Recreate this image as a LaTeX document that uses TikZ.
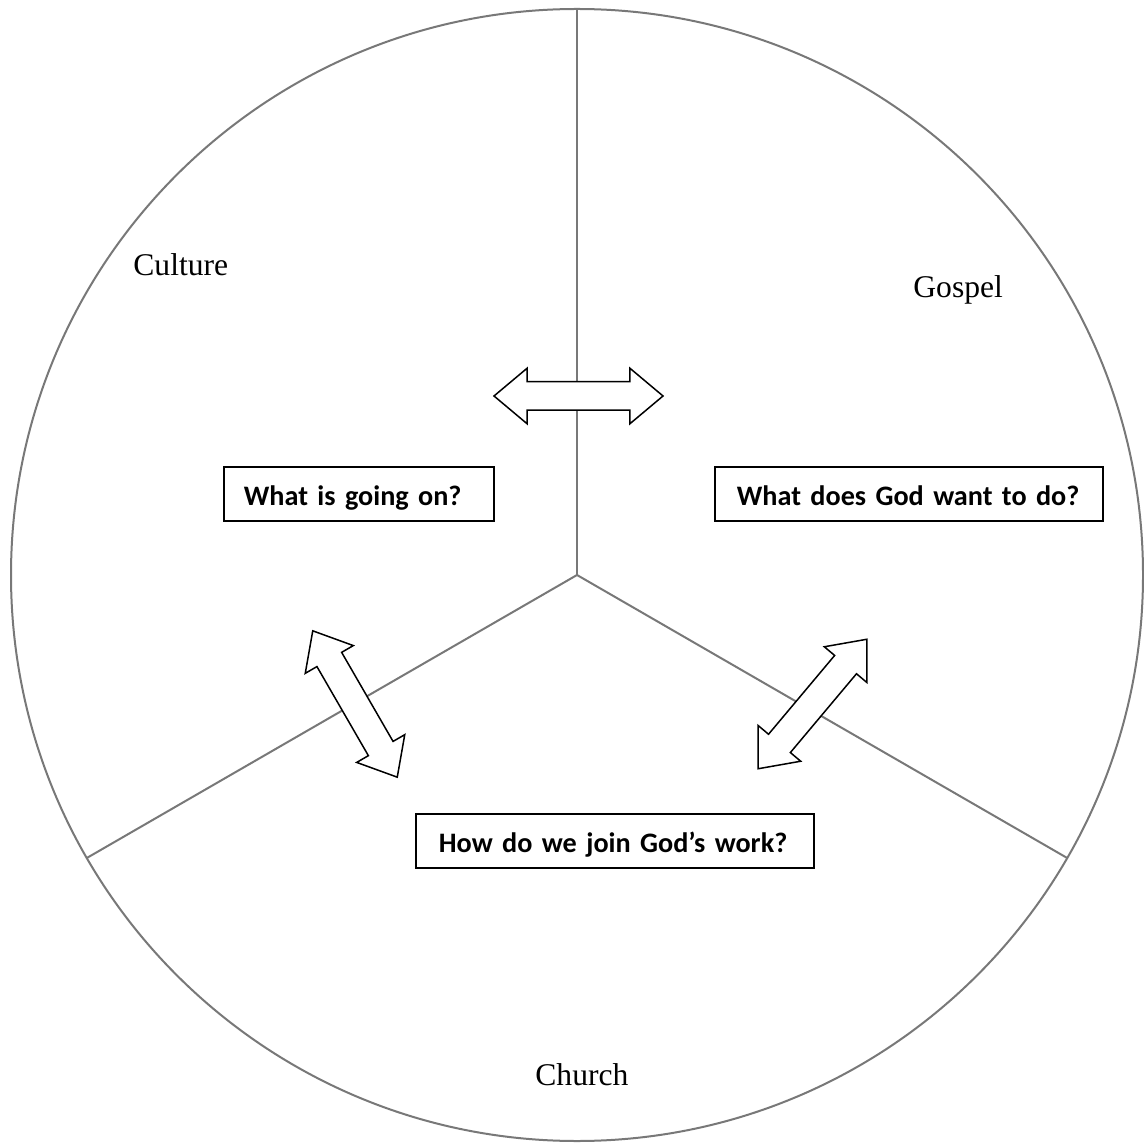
\documentclass[tikz,border=0pt]{standalone}
\usepackage{fontspec}
\setmainfont{Liberation Serif}
\newfontfamily\boxfont[WordSpace=0.8]{Carlito}
\usetikzlibrary{shapes.arrows}
\definecolor{cRim}{RGB}{120,120,120}
\tikzset{
  rim/.style    ={draw=cRim,line width=1pt},
  part/.style   ={font=\fontsize{15.8}{19}\selectfont,inner sep=0pt,anchor=base west},
  ask/.style    ={draw,line width=0.9pt,anchor=north west,align=left,
                  font=\boxfont\bfseries\fontsize{14.1}{17}\selectfont,
                  inner xsep=0pt,inner ysep=0pt,minimum height=27pt,
                  text height=14pt,text depth=2.5pt},
  twoway/.style ={double arrow,draw,line width=0.75pt,fill=white,
                  inner xsep=0pt,inner ysep=6.75pt,
                  minimum height=84.5pt,minimum width=0pt,
                  double arrow head extend=6.75pt,double arrow tip angle=80},
}

\begin{document}
\begin{tikzpicture}[x=0.5pt,y=-0.5pt]
\useasboundingbox (0,0) rectangle (1144,1143);

\coordinate (ctr) at (577,575);
\coordinate (up) at (577,9);
\coordinate (ll) at (86.8,858);
\coordinate (lr) at (1067.2,858);

\draw[rim] (ctr) circle[radius=566];
\draw[rim] (ctr) -- (up);
\draw[rim] (ctr) -- (ll);
\draw[rim] (ctr) -- (lr);

% sector names
\node[part] (culture) at (133,276) {Culture};
\node[part] (gospel) at (913,298) {Gospel};
\node[part] (church) at (535,1085) {Church};

% questions
\node[ask,text width=135pt] (q1) at (223,466) {\hspace*{10pt}What is going on?};
\node[ask,text width=194pt] (q2) at (714,466) {\hspace*{11pt}What does God want to do?};
\node[ask,text width=199pt] (q3) at (415,813) {\hspace*{11.5pt}How do we join God’s work?};

% exchanges between the parts
\node[twoway] (a1) at (578.5,396) {};
\node[twoway,rotate=120] (a2) at (355,704) {};
\node[twoway,rotate=50] (a3) at (812.5,704) {};

\end{tikzpicture}
\end{document}
